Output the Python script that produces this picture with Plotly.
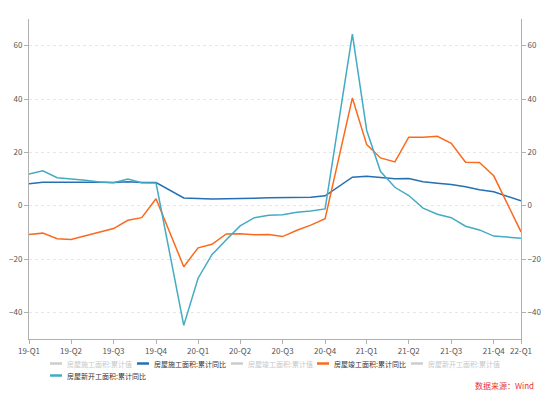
import plotly.graph_objects as go

# month-end dates of the released cumulative figures (Jan-Feb combined)
dates = [
    "2019-03-31", "2019-04-30", "2019-05-31", "2019-06-30", "2019-07-31", "2019-08-31",
    "2019-09-30", "2019-10-31", "2019-11-30", "2019-12-31",
    "2020-02-29", "2020-03-31", "2020-04-30", "2020-05-31", "2020-06-30", "2020-07-31",
    "2020-08-31", "2020-09-30", "2020-10-31", "2020-11-30", "2020-12-31",
    "2021-02-28", "2021-03-31", "2021-04-30", "2021-05-31", "2021-06-30", "2021-07-31",
    "2021-08-31", "2021-09-30", "2021-10-31", "2021-11-30", "2021-12-31",
    "2022-02-28",
]

construction_yoy = [
    8.2, 8.8, 8.8, 8.8, 9.0, 8.8, 8.7, 9.0, 8.7, 8.7,
    2.9, 2.6, 2.5, 2.6, 2.6, 2.8, 3.0, 3.1, 3.0, 3.2, 3.7,
    10.7, 11.0, 10.5, 10.1, 10.2, 9.0, 8.4, 7.9, 7.1, 6.0, 5.2,
    1.8,
]
completed_yoy = [
    -10.8, -10.3, -12.4, -12.7, -11.3, -10.0, -8.6, -5.5, -4.5, 2.6,
    -22.9, -15.8, -14.5, -10.6, -10.5, -10.9, -10.8, -11.6, -9.2, -7.3, -4.9,
    40.4, 22.9, 17.9, 16.4, 25.7, 25.7, 26.0, 23.4, 16.3, 16.2, 11.2,
    -9.8,
]
new_start_yoy = [
    11.9, 13.1, 10.5, 10.1, 9.5, 8.9, 8.6, 10.0, 8.6, 8.5,
    -44.9, -27.2, -18.4, -12.8, -7.6, -4.5, -3.6, -3.4, -2.5, -2.0, -1.2,
    64.3, 28.2, 12.8, 6.9, 3.8, -0.9, -3.2, -4.5, -7.7, -9.1, -11.4,
    -12.2,
]

tick_dates = [
    "2019-03-31", "2019-06-30", "2019-09-30", "2019-12-31",
    "2020-03-31", "2020-06-30", "2020-09-30", "2020-12-31",
    "2021-03-31", "2021-06-30", "2021-09-30", "2021-12-31",
    "2022-02-28",
]
tick_labels = [
    "19-Q1", "19-Q2", "19-Q3", "19-Q4",
    "20-Q1", "20-Q2", "20-Q3", "20-Q4",
    "21-Q1", "21-Q2", "21-Q3", "21-Q4",
    "22-Q1",
]
y_ticks = [-40, -20, 0, 20, 40, 60]

legend_names = [
    "房屋施工面积:累计值", "房屋施工面积:累计同比",
    "房屋竣工面积:累计值", "房屋竣工面积:累计同比",
    "房屋新开工面积:累计值", "房屋新开工面积:累计同比",
]

FONT = "Noto Sans CJK SC, Microsoft YaHei, sans-serif"
BLUE = "#2470b3"
ORANGE = "#fa6a1e"
CYAN = "#44abc2"
OFF = "#cccccc"
legend_colors = [OFF, BLUE, OFF, ORANGE, OFF, CYAN]
legend_active = [False, True, False, True, False, True]

# figure geometry (page body adds an 8px offset)
W, H = 542, 387
ML, MR, MT, MB = 21, 29, 11, 56
PW, PH = W - ML - MR, H - MT - MB
OFFSET = 8


def px(xs):
    return (xs - OFFSET - ML) / PW


def py(ys):
    return 1 - (ys - OFFSET - MT) / PH


fig = go.Figure()
fig.add_trace(go.Scatter(x=dates, y=construction_yoy, mode="lines",
                         name=legend_names[1], line=dict(color=BLUE, width=1.5)))
fig.add_trace(go.Scatter(x=dates, y=completed_yoy, mode="lines",
                         name=legend_names[3], line=dict(color=ORANGE, width=1.5)))
fig.add_trace(go.Scatter(x=dates, y=new_start_yoy, mode="lines", yaxis="y2",
                         name=legend_names[5], line=dict(color=CYAN, width=1.5)))

axis_common = dict(
    range=[-50, 70], tickvals=y_ticks, showline=True, linecolor="#b0b0b0", linewidth=1,
    ticks="outside", ticklen=4, tickcolor="#b0b0b0", zeroline=False, automargin=False,
    tickfont=dict(size=8, color="#555555", family=FONT),
)

# custom legend layout (screen px): text start positions, rows
legend_text_x = [65, 152, 246, 332, 426, 65]
legend_row_y = [363.5, 363.5, 363.5, 363.5, 363.5, 375.5]

shapes = []
annotations = []
for name, col, active, tx, ty in zip(legend_names, legend_colors, legend_active,
                                      legend_text_x, legend_row_y):
    shapes.append(dict(type="line", xref="paper", yref="paper",
                       x0=px(tx - 15), x1=px(tx - 3), y0=py(ty), y1=py(ty),
                       line=dict(color=col, width=2.5)))
    annotations.append(dict(text=name, xref="paper", yref="paper", x=px(tx), y=py(ty),
                            xanchor="left", yanchor="middle", showarrow=False,
                            font=dict(size=7, family=FONT,
                                      color="#333333" if active else "#c8c8c8")))

annotations.append(dict(
    text="数据来源：Wind", xref="paper", yref="paper", x=px(536), y=py(385),
    xanchor="right", yanchor="middle", showarrow=False,
    font=dict(size=8, color="#e8333a", family=FONT),
))

fig.update_layout(
    width=W, height=H,
    margin=dict(l=ML, r=MR, t=MT, b=MB, autoexpand=False),
    paper_bgcolor="white", plot_bgcolor="white",
    font=dict(family=FONT, size=7, color="#333333"),
    showlegend=False,
    xaxis=dict(
        type="date", range=[dates[0], dates[-1]],
        tickvals=tick_dates, ticktext=tick_labels, automargin=False,
        showgrid=False, showline=True, linecolor="#b0b0b0", linewidth=1,
        ticks="outside", ticklen=4, tickcolor="#b0b0b0",
        tickfont=dict(size=8, color="#555555", family=FONT),
    ),
    yaxis=dict(**axis_common, showgrid=True, gridcolor="#e6e6e6", griddash="3px,3px", gridwidth=1),
    yaxis2=dict(**axis_common, overlaying="y", side="right", showgrid=False, matches="y"),
    shapes=shapes,
    annotations=annotations,
)

fig.write_html("out.html")
